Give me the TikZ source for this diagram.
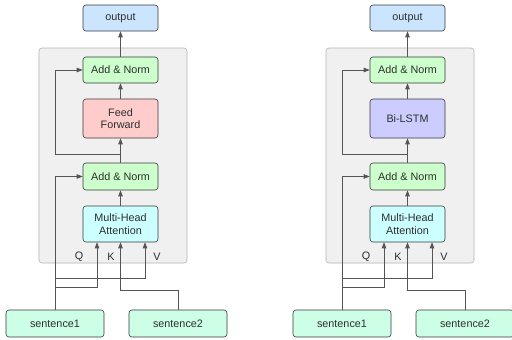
\documentclass[tikz,border=0pt]{standalone}
\usepackage{fontspec}
\setmainfont{Liberation Sans}
\usetikzlibrary{arrows.meta,calc}

\definecolor{edge}{HTML}{36393D}
\definecolor{wire}{HTML}{555555}
\definecolor{outblue}{HTML}{CCE5FF}
\definecolor{normgreen}{HTML}{CCFFCC}
\definecolor{ffred}{HTML}{FFCCCC}
\definecolor{lstmblue}{HTML}{CCCCFF}
\definecolor{attcyan}{HTML}{CCFFFF}
\definecolor{sentmint}{HTML}{CCFFE6}

\begin{document}
\begin{tikzpicture}[
    x=1pt, y=-1pt,
    every node/.style={font=\fontsize{10.8}{12.5}\selectfont, text=black!82},
    block/.style={rectangle, draw=edge, line width=0.6pt, rounded corners=3pt, minimum width=75pt, minimum height=26pt, align=center, inner sep=0pt},
    sentence/.style={block, fill=sentmint, minimum width=98pt, minimum height=27pt},
    panel/.style={rectangle, draw=black!30, line width=0.6pt, fill=black!6, rounded corners=3pt, minimum width=148pt, minimum height=215pt},
    link/.style={draw=wire, line width=0.7pt},
    arr/.style={link, -{Triangle[length=6pt,width=4.5pt]}}
]
\useasboundingbox (0,0) rectangle (512,340);

\foreach \p/\dx/\mid/\midfill in {L/0/{Feed\\Forward}/ffred, R/287/Bi-LSTM/lstmblue} {
\begin{scope}[xshift=\dx pt]

% Encoder layer
\node[panel] (layer\p) at (113,155.5) {};

% Blocks
\node[block, fill=outblue] (out\p) at (120.5,18) {output};
\node[block, fill=normgreen] (an1\p) at (120.5,70) {Add \& Norm};
\node[block, fill=\midfill, minimum height=39pt] (mid\p) at (120.5,118.5) {\mid};
\node[block, fill=normgreen, minimum height=27pt] (an2\p) at (120.5,176.5) {Add \& Norm};
\node[block, fill=attcyan, minimum height=36pt] (mha\p) at (120.5,224) {Multi-Head\\Attention};

% Q K V
\node (q\p) at (79,257) {Q};
\node (k\p) at (111,257) {K};
\node (v\p) at (157,257) {V};

% Inputs
\node[sentence] (s1\p) at (55,323.5) {sentence1};
\node[sentence] (s2\p) at (178,323.5) {sentence2};

% Main path
\draw[arr] (mha\p) -- (an2\p);
\draw[arr] (an2\p) -- (mid\p);
\draw[arr] (mid\p) -- (an1\p);
\draw[arr] (an1\p) -- (out\p);

% Residuals
\coordinate (skip\p) at (120.5,154);
\draw[arr] (skip\p) -- (55,154) |- (an1\p.west);
\draw[arr] (s1\p.north) |- (an2\p.west);

% Attention inputs
\coordinate (qsplit\p) at (55,287);
\coordinate (vsplit\p) at (55,278);
\draw[arr] (qsplit\p) -| ($(mha\p.south)+(-23.5,0)$);
\draw[arr] (vsplit\p) -| ($(mha\p.south)+(24.5,0)$);
\draw[arr] (s2\p.north) -- ++(0,-19) -| (mha\p.south);

\end{scope}
}

\end{tikzpicture}
\end{document}
